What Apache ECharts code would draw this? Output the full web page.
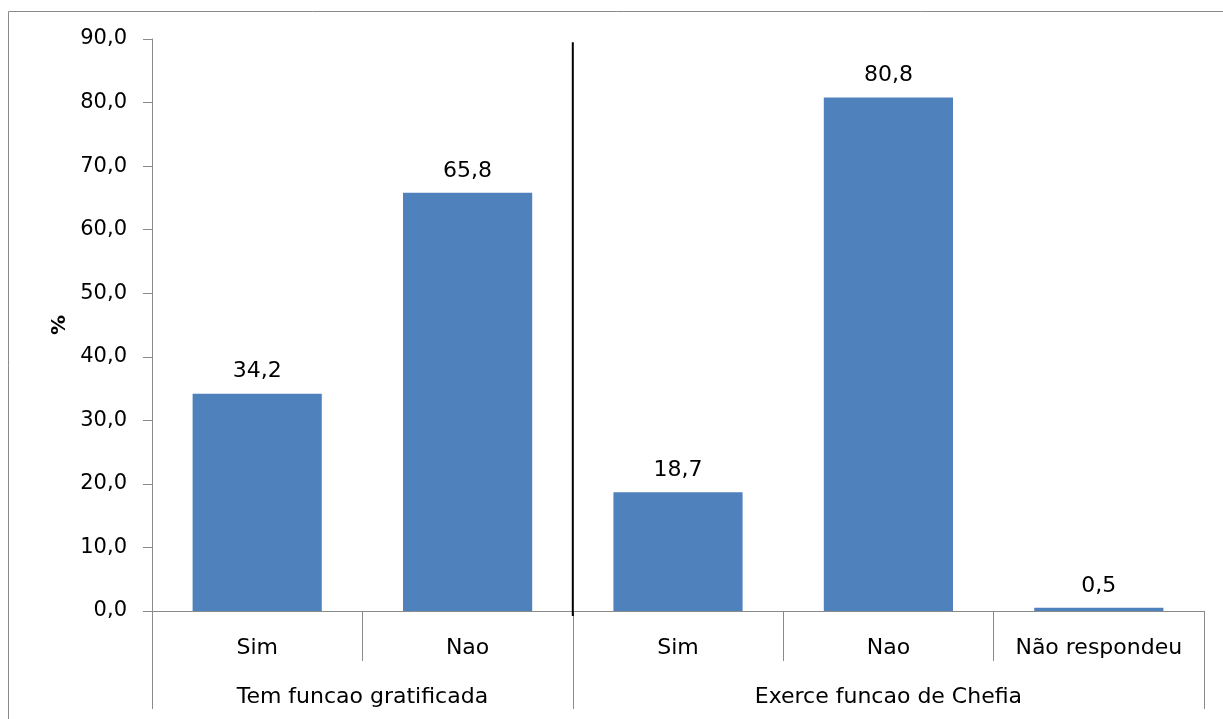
<!DOCTYPE html>
<html>
<head>
<meta charset="utf-8">
<script src="https://cdn.jsdelivr.net/npm/echarts@6/dist/echarts.min.js"></script>
<style>
  html, body { margin: 0; padding: 0; background: #fff; }
  #chart { width: 1223px; height: 719px; }
</style>
</head>
<body>
<div id="chart"></div>
<script>
// Answer categories (first label row) and their values in %
const categories = ['Sim', 'Nao', 'Sim', 'Nao', 'Não respondeu'];
const values = [34.2, 65.8, 18.7, 80.8, 0.5];

// Question groups (second label row) and how many answers each holds
const groups = ['Tem funcao gratificada', 'Exerce funcao de Chefia'];
const groupSizes = [2, 3];

// Y axis range
const yMin = 0, yMax = 90, yStep = 10;

const FONT = 'DejaVu Sans';
const GRAY = '#8a8a8a';

// Group boundaries and centres in category units
const groupEdges = [0];
groupSizes.forEach(n => groupEdges.push(groupEdges[groupEdges.length - 1] + n));
const groupCenters = groups.map((g, i) => (groupEdges[i] + groupEdges[i + 1]) / 2);
const dividerAt = groupEdges[1];

const fmt = v => Number(v).toFixed(1).replace('.', ',');

const chart = echarts.init(document.getElementById('chart'));
chart.setOption({
  animation: false,
  textStyle: { fontFamily: FONT },
  grid: { left: 152, right: 19, top: 39, bottom: 108, containLabel: false },
  xAxis: [
    {
      type: 'category',
      data: categories,
      axisLine: { lineStyle: { color: GRAY, width: 1 } },
      axisTick: { show: true, length: 50, lineStyle: { color: GRAY } },
      axisLabel: { color: '#000', fontSize: 22, fontFamily: FONT, margin: 26, interval: 0 }
    },
    {
      type: 'value',
      min: 0,
      max: categories.length,
      position: 'bottom',
      splitLine: { show: false },
      axisLine: { show: false },
      axisTick: { show: true, length: 98, lineStyle: { color: GRAY }, customValues: groupEdges },
      axisLabel: {
        color: '#000', fontSize: 22, fontFamily: FONT, margin: 75,
        customValues: groupCenters,
        formatter: v => {
          const i = groupCenters.findIndex(c => Math.abs(c - v) < 1e-6);
          return i >= 0 ? groups[i] : '';
        }
      }
    }
  ],
  yAxis: {
    type: 'value',
    min: yMin,
    max: yMax,
    interval: yStep,
    name: '%',
    nameLocation: 'middle',
    nameGap: 82,
    nameRotate: 90,
    nameTextStyle: { color: '#000', fontSize: 20, fontWeight: 'bold', fontFamily: FONT },
    splitLine: { show: false },
    axisLine: { show: true, lineStyle: { color: GRAY } },
    axisTick: { show: true, length: 9, lineStyle: { color: GRAY } },
    axisLabel: { color: '#000', fontSize: 21, fontFamily: FONT, margin: 25, formatter: fmt }
  },
  series: [
    {
      type: 'bar',
      data: values,
      barWidth: '61.4%',
      itemStyle: { color: '#4F81BD' },
      label: {
        show: true,
        position: 'top',
        distance: 11,
        color: '#000',
        fontSize: 22,
        fontFamily: FONT,
        formatter: p => fmt(p.value)
      }
    },
    {
      // divider between the two question groups
      type: 'line',
      xAxisIndex: 1,
      data: [[dividerAt, -0.8], [dividerAt, 89.5]],
      symbol: 'none',
      clip: false,
      lineStyle: { color: '#000', width: 2 },
      silent: true
    }
  ],
  graphic: [
    {
      type: 'rect',
      shape: { x: 8.5, y: 11.5, width: 1260, height: 760 },
      style: { fill: 'none', stroke: GRAY, lineWidth: 1 },
      silent: true
    }
  ]
});
</script>
</body>
</html>
